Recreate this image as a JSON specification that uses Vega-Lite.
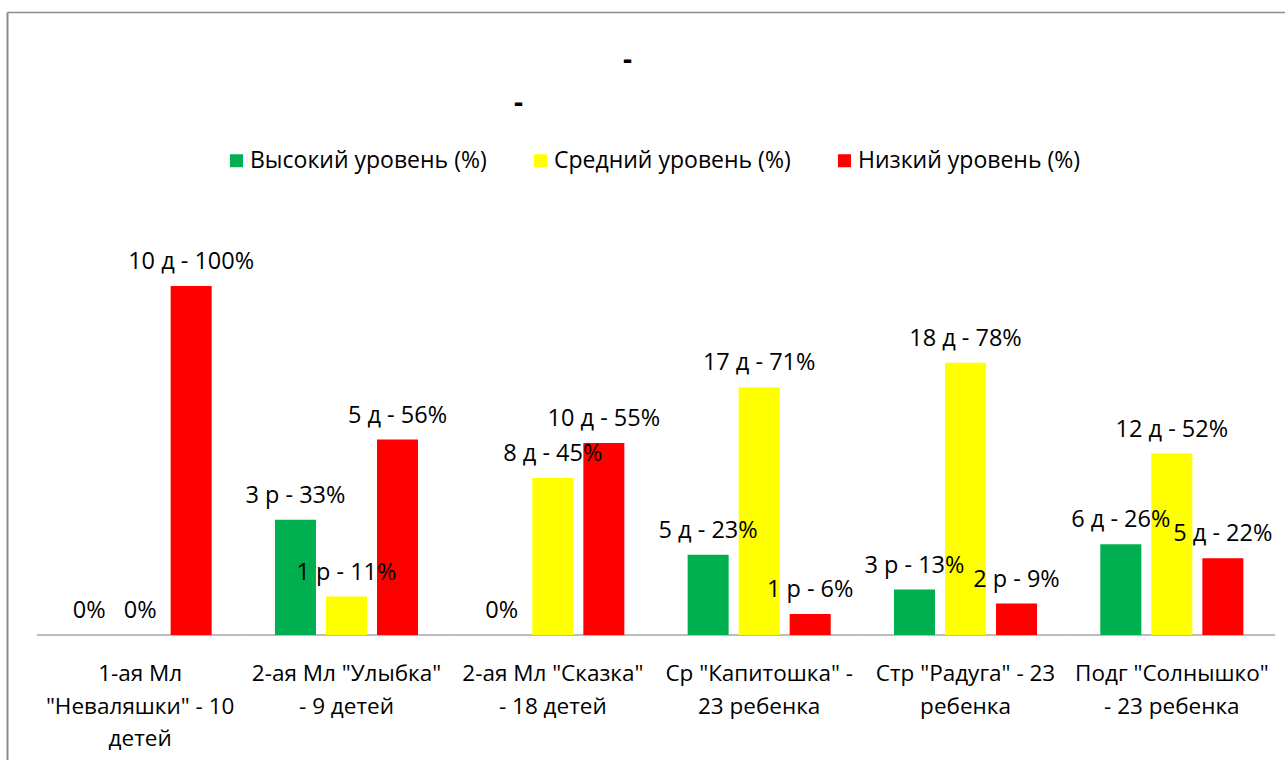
{
  "$schema": "https://vega.github.io/schema/vega-lite/v6.json",
  "width": 1278,
  "height": 748,
  "autosize": {"type": "none"},
  "padding": {"left": 7, "top": 12, "right": 0, "bottom": 0},
  "background": "white",
  "config": {
    "view": {"stroke": null},
    "font": "Open Sans"
  },
  "title": {
    "text": ["\u200b\u00a0\u00a0\u00a0\u00a0\u00a0\u00a0\u00a0\u00a0\u00a0\u00a0\u00a0\u00a0\u00a0\u00a0\u00a0-", "-"],
    "anchor": "start",
    "align": "left",
    "frame": "group",
    "dx": 507,
    "offset": -127.5,
    "baseline": "alphabetic",
    "font": "Open Sans",
    "fontSize": 28,
    "fontWeight": "bold",
    "lineHeight": 43,
    "color": "black"
  },
  "data": {
    "values": [
      {"group": "1-ая Мл\n\"Неваляшки\" - 10\nдетей", "series": "Высокий уровень (%)", "value": 0, "label": "0%"},
      {"group": "1-ая Мл\n\"Неваляшки\" - 10\nдетей", "series": "Средний уровень (%)", "value": 0, "label": "0%"},
      {"group": "1-ая Мл\n\"Неваляшки\" - 10\nдетей", "series": "Низкий уровень (%)", "value": 100, "label": "10 д - 100%"},
      {"group": "2-ая Мл \"Улыбка\"\n- 9 детей", "series": "Высокий уровень (%)", "value": 33, "label": "3 р - 33%"},
      {"group": "2-ая Мл \"Улыбка\"\n- 9 детей", "series": "Средний уровень (%)", "value": 11, "label": "1 р - 11%"},
      {"group": "2-ая Мл \"Улыбка\"\n- 9 детей", "series": "Низкий уровень (%)", "value": 56, "label": "5 д - 56%"},
      {"group": "2-ая Мл \"Сказка\"\n- 18 детей", "series": "Высокий уровень (%)", "value": 0, "label": "0%"},
      {"group": "2-ая Мл \"Сказка\"\n- 18 детей", "series": "Средний уровень (%)", "value": 45, "label": "8 д - 45%"},
      {"group": "2-ая Мл \"Сказка\"\n- 18 детей", "series": "Низкий уровень (%)", "value": 55, "label": "10 д - 55%"},
      {"group": "Ср \"Капитошка\" -\n23 ребенка", "series": "Высокий уровень (%)", "value": 23, "label": "5 д - 23%"},
      {"group": "Ср \"Капитошка\" -\n23 ребенка", "series": "Средний уровень (%)", "value": 71, "label": "17 д - 71%"},
      {"group": "Ср \"Капитошка\" -\n23 ребенка", "series": "Низкий уровень (%)", "value": 6, "label": "1 р - 6%"},
      {"group": "Стр \"Радуга\" - 23\nребенка", "series": "Высокий уровень (%)", "value": 13, "label": "3 р - 13%"},
      {"group": "Стр \"Радуга\" - 23\nребенка", "series": "Средний уровень (%)", "value": 78, "label": "18 д - 78%"},
      {"group": "Стр \"Радуга\" - 23\nребенка", "series": "Низкий уровень (%)", "value": 9, "label": "2 р - 9%"},
      {"group": "Подг \"Солнышко\"\n- 23 ребенка", "series": "Высокий уровень (%)", "value": 26, "label": "6 д - 26%"},
      {"group": "Подг \"Солнышко\"\n- 23 ребенка", "series": "Средний уровень (%)", "value": 52, "label": "12 д - 52%"},
      {"group": "Подг \"Солнышко\"\n- 23 ребенка", "series": "Низкий уровень (%)", "value": 22, "label": "5 д - 22%"}
    ]
  },
  "resolve": {"axis": {"x": "independent"}},
  "layer": [
    {
      "transform": [{"filter": "datum.series === 'Высокий уровень (%)'"}],
      "mark": {"type": "rect", "fill": null, "stroke": "#a6a6a6", "strokeWidth": 1.5},
      "encoding": {
        "x": {
          "field": "group", "type": "nominal", "sort": null,
          "scale": {"paddingInner": 0, "paddingOuter": 0.0969, "align": 0.75},
          "axis": {"orient": "top", "domain": true, "domainColor": "#8c8c8c", "domainWidth": 1.5, "labels": false, "ticks": false, "grid": false, "title": null}
        },
        "y": {"datum": 0, "type": "quantitative"},
        "y2": {"datum": 0}
      }
    },
    {
      "mark": {"type": "bar"},
      "encoding": {
        "x": {
          "field": "group", "type": "nominal", "sort": null,
          "axis": {
            "orient": "bottom", "offset": -125, "domain": false, "ticks": false, "tickSize": 0,
            "grid": false, "title": null, "labelAngle": 0,
            "labelExpr": "split(datum.label, '\\n')",
            "labelFont": "Open Sans", "labelFontSize": 22.5, "labelLineHeight": 32.5,
            "labelBaseline": "top", "labelPadding": 27.5, "labelColor": "black",
            "labelLimit": 0, "labelOverlap": false, "labelBound": false
          }
        },
        "xOffset": {
          "field": "series", "type": "nominal",
          "sort": ["Высокий уровень (%)", "Средний уровень (%)", "Низкий уровень (%)"],
          "scale": {"paddingInner": 0.196, "paddingOuter": 0.62}
        },
        "y": {
          "field": "value", "type": "quantitative",
          "scale": {"domain": [-35.82, 178.51], "nice": false, "zero": false},
          "axis": {"orient": "left", "domain": true, "domainColor": "#8c8c8c", "domainWidth": 2, "labels": false, "ticks": false, "grid": false, "title": null}
        },
        "y2": {"datum": 0},
        "color": {
          "field": "series", "type": "nominal",
          "scale": {
            "domain": ["Высокий уровень (%)", "Средний уровень (%)", "Низкий уровень (%)"],
            "range": ["#00b050", "#ffff00", "#ff0000"]
          },
          "legend": {
            "orient": "none", "legendX": 218, "legendY": 137, "direction": "horizontal",
            "title": null, "symbolType": "square", "symbolSize": 169, "symbolStrokeWidth": 0,
            "symbolOpacity": 1, "labelFont": "Open Sans", "labelFontSize": 23, "labelOffset": 2,
            "columnPadding": 42, "padding": 0, "labelColor": "black", "labelLimit": 0
          }
        }
      }
    },
    {
      "mark": {"type": "text", "baseline": "alphabetic", "align": "center", "dy": -17, "fontSize": 23.5, "font": "Open Sans", "color": "black"},
      "encoding": {
        "x": {"field": "group", "type": "nominal", "sort": null},
        "xOffset": {
          "field": "series", "type": "nominal",
          "sort": ["Высокий уровень (%)", "Средний уровень (%)", "Низкий уровень (%)"]
        },
        "y": {"field": "value", "type": "quantitative"},
        "text": {"field": "label"}
      }
    }
  ]
}
